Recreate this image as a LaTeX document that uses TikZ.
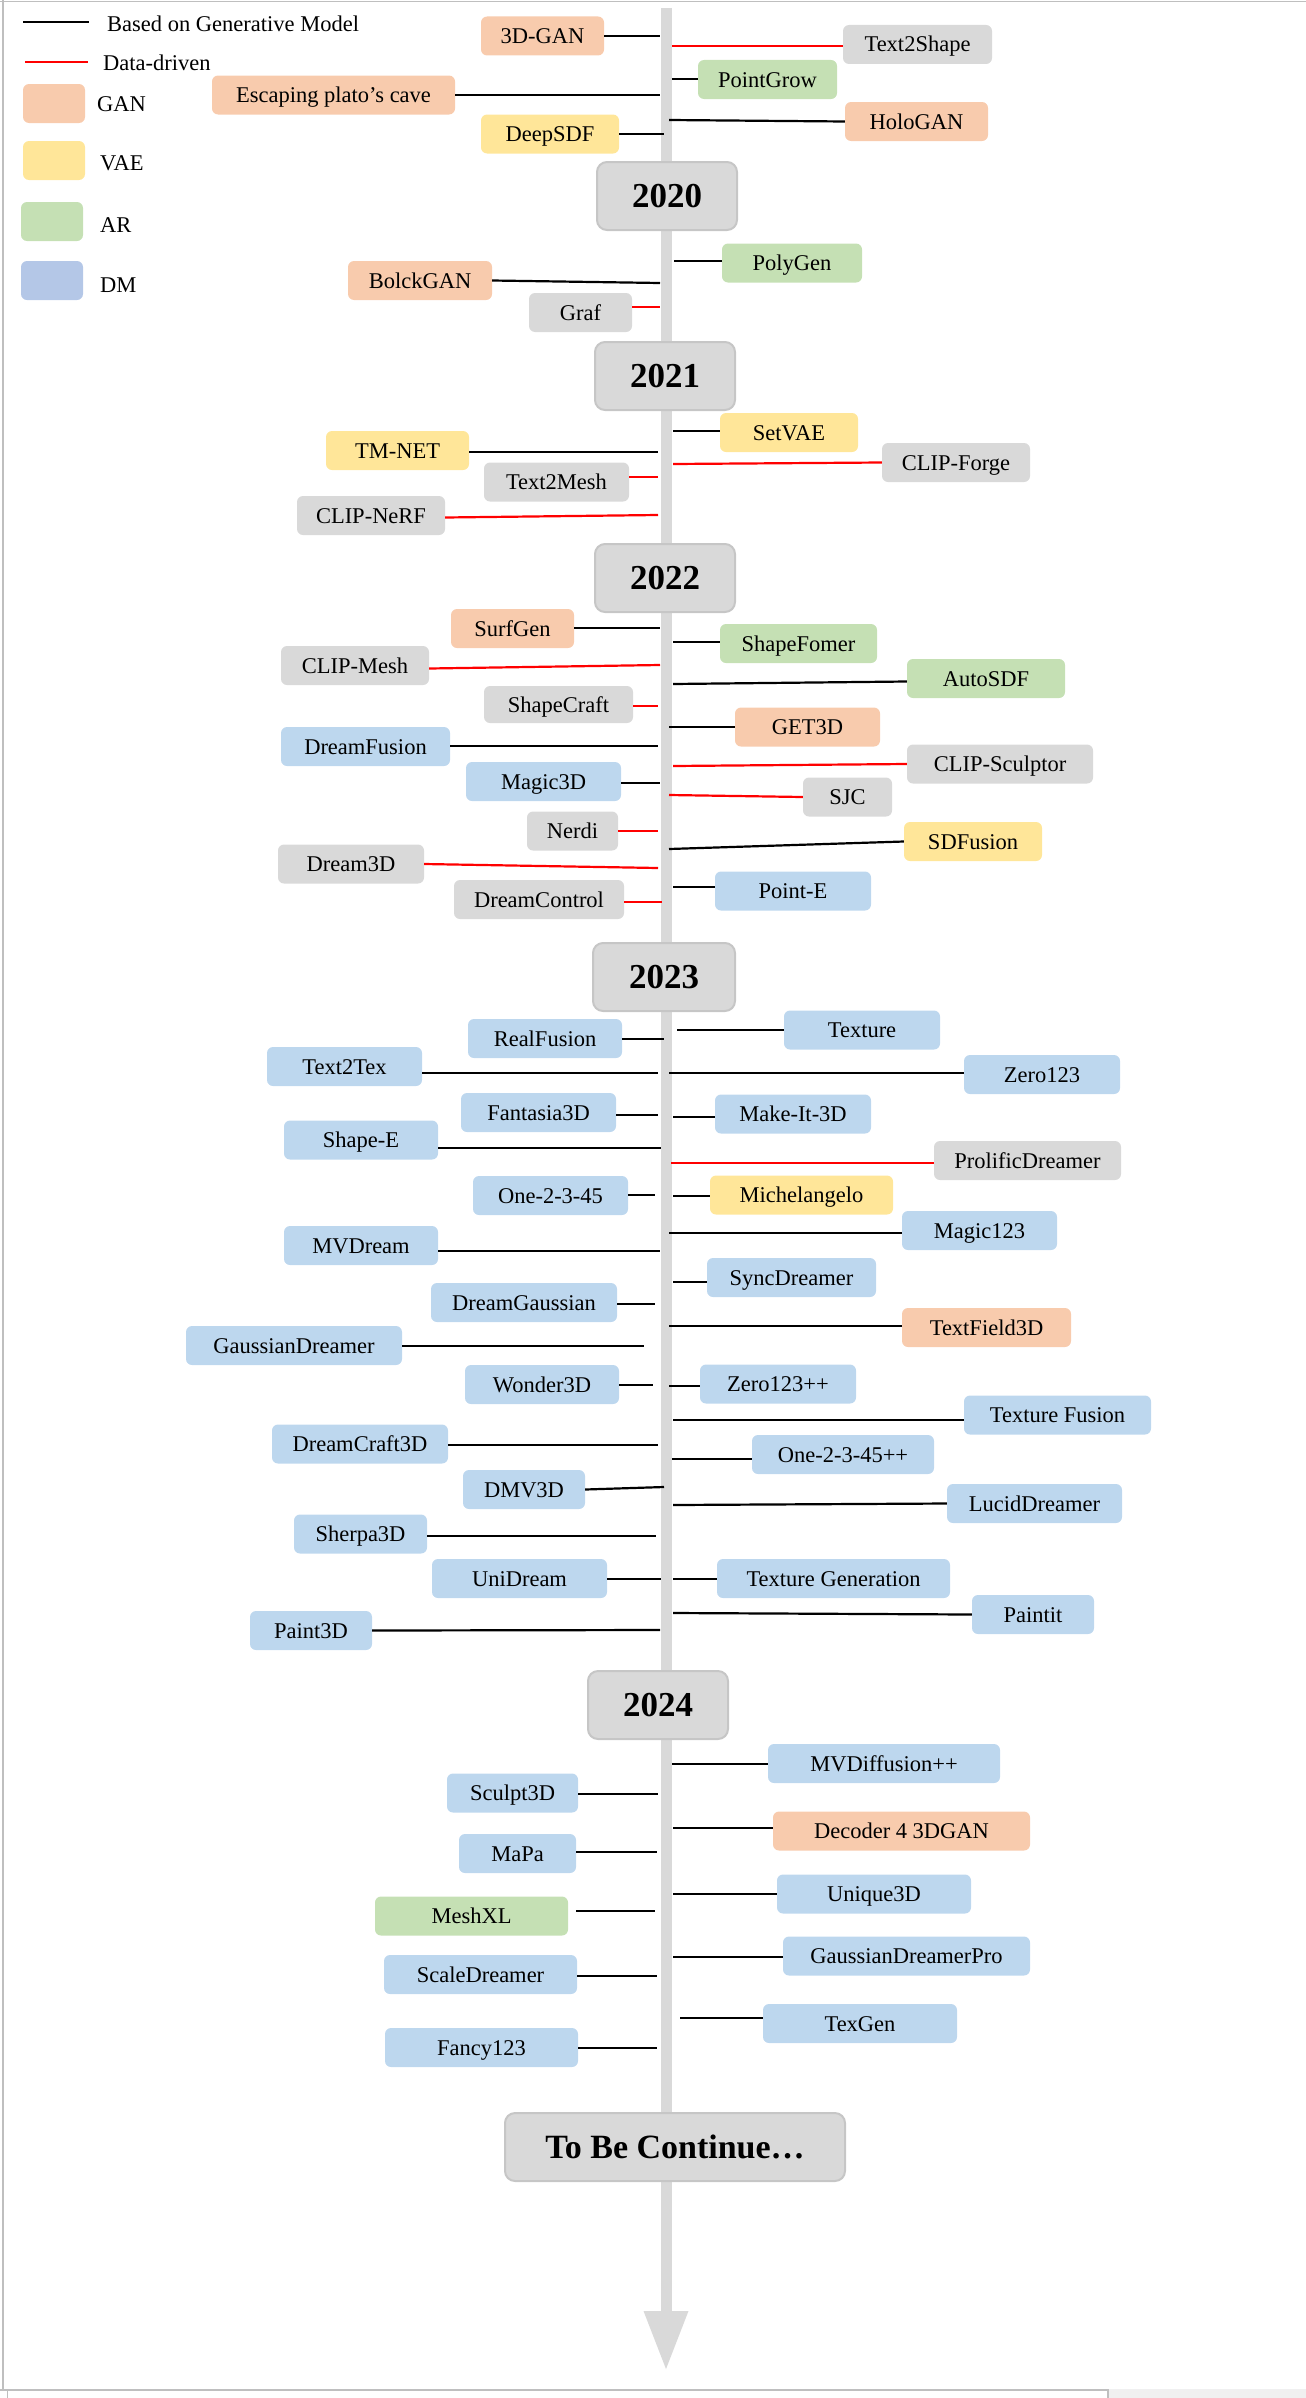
\documentclass[tikz,border=0pt]{standalone}
\usepackage{fontspec}
\setmainfont{Liberation Serif}
\usepackage{tikz}
\usepackage{xcolor}
\usetikzlibrary{arrows.meta, positioning}
\definecolor{colgan}{HTML}{F8CBAD}
\definecolor{colvae}{HTML}{FFE699}
\definecolor{colar}{HTML}{C5E0B4}
\definecolor{coldm}{HTML}{BDD7EE}
\definecolor{coldmkey}{HTML}{B4C7E7}
\definecolor{coloth}{HTML}{D9D9D9}
\definecolor{colaxis}{HTML}{D9D9D9}
\definecolor{colyear}{HTML}{C6C6C6}
\definecolor{colframe}{HTML}{BFBFBF}
\definecolor{colpage}{HTML}{F0F0F0}
\newcommand{\modelfont}{\fontsize{22.5}{27}\selectfont}
\newcommand{\yearfont}{\fontsize{35}{40}\selectfont\bfseries}
\tikzstyle{model}    = [rectangle, rounded corners=6pt, minimum height=39pt, inner sep=2pt,
                        text height=15pt, text depth=0pt, text centered, font=\modelfont]
\tikzstyle{ganbox}   = [model, fill=colgan]
\tikzstyle{vaebox}   = [model, fill=colvae]
\tikzstyle{arbox}    = [model, fill=colar]
\tikzstyle{dmbox}    = [model, fill=coldm]
\tikzstyle{othbox}   = [model, fill=coloth]
\tikzstyle{yearbox}  = [rectangle, rounded corners=10pt, minimum width=140pt, minimum height=68pt,
                        text height=23pt, text depth=0pt, text centered, draw=colyear,
                        line width=2pt, fill=coloth, font=\yearfont]
\tikzstyle{legkey}   = [rectangle, rounded corners=6pt, minimum width=62pt, minimum height=39pt, inner sep=0pt]
\tikzstyle{legtext}  = [anchor=west, inner sep=0pt, text height=15pt, text depth=0pt, font=\modelfont]
\tikzstyle{generative} = [black, line width=2.2pt]
\tikzstyle{datadriven} = [red, line width=2.2pt]
\tikzstyle{timeaxis} = [colaxis, line width=11pt, -{Triangle[width=45pt, length=58pt, line width=0pt]}]

\begin{document}
\begin{tikzpicture}[x=1pt, y=-1pt]
    \useasboundingbox (0,0) rectangle (1306,2398);
    \fill[colpage] (1108,2389) rectangle (1306,2398);
    \draw[colframe, line width=1.5pt] (0,1.5) -- (1306,1.5);
    \draw[colframe, line width=1.5pt] (3,0) -- (3,2390);
    \draw[colframe, line width=1.5pt] (0,2390) -- (1108,2390) -- (1108,2398);
    \draw[colframe, line width=1pt] (7,2391) -- (7,2398);

    \coordinate (top) at (666,8);
    \coordinate (tip) at (666,2369);
    \draw[timeaxis] (top) -- (tip);

    % legend
    \coordinate (kg1) at (23,22);
    \coordinate (kg2) at (89,22);
    \coordinate (kd1) at (25,62);
    \coordinate (kd2) at (88,62);
    \draw[generative] (kg1) -- (kg2);
    \draw[datadriven] (kd1) -- (kd2);
    \node (lgen) [legtext] at (107,24) {Based on Generative Model};
    \node (ldata) [legtext] at (103,63) {Data-driven};
    \node (kgan) [legkey, fill=colgan] at (54,103.5) {};
    \node (kvae) [legkey, fill=colvae] at (54,160.5) {};
    \node (kar) [legkey, fill=colar] at (52,221.5) {};
    \node (kdm) [legkey, fill=coldmkey] at (52,280.5) {};
    \node (lgan) [legtext] at (97,104) {GAN};
    \node (lvae) [legtext] at (100,163) {VAE};
    \node (lar) [legtext] at (100,225) {AR};
    \node (ldm) [legtext] at (100,285) {DM};

    % before 2020
    \node (gan3d) [ganbox, minimum width=123] at (542.5,36) {3D-GAN};
    \node (text2shape) [othbox, minimum width=149] at (917.5,44.5) {Text2Shape};
    \node (pointgrow) [arbox, minimum width=139] at (767.5,79.5) {PointGrow};
    \node (plato) [ganbox, minimum width=243] at (333.5,95) {Escaping plato’s cave};
    \node (hologan) [ganbox, minimum width=143] at (916.5,121.5) {HoloGAN};
    \node (deepsdf) [vaebox, minimum width=138] at (550,134) {DeepSDF};
    \node (y2020) [yearbox] at (667,196) {2020};

    \coordinate (k-gan3d) at (660,36);
    \coordinate (k-text2shape) at (672,46);
    \coordinate (k-pointgrow) at (672,79);
    \coordinate (k-plato) at (660,95);
    \coordinate (k-hologan) at (669,120);
    \coordinate (k-deepsdf) at (664,134);
    \draw[generative] (gan3d.east |- k-gan3d) -- (k-gan3d);
    \draw[datadriven] (k-text2shape) -- (text2shape.west |- k-text2shape);
    \draw[generative] (k-pointgrow) -- (pointgrow.west |- k-pointgrow);
    \draw[generative] (plato.east |- k-plato) -- (k-plato);
    \draw[generative] (k-hologan) -- (hologan.west);
    \draw[generative] (deepsdf.east |- k-deepsdf) -- (k-deepsdf);

    % 2020
    \node (polygen) [arbox, minimum width=140] at (792,263) {PolyGen};
    \node (bolckgan) [ganbox, minimum width=144] at (420,280.5) {BolckGAN};
    \node (graf) [othbox, minimum width=103] at (580.5,312.5) {Graf};
    \node (y2021) [yearbox] at (665,376) {2021};

    \coordinate (k-polygen) at (674,261);
    \coordinate (k-bolckgan) at (660,283);
    \coordinate (k-graf) at (660,307);
    \draw[generative] (k-polygen) -- (polygen.west |- k-polygen);
    \draw[generative] (bolckgan.east) -- (k-bolckgan);
    \draw[datadriven] (graf.east |- k-graf) -- (k-graf);

    % 2021
    \node (setvae) [vaebox, minimum width=138] at (789,432.5) {SetVAE};
    \node (tmnet) [vaebox, minimum width=143] at (397.5,450.5) {TM-NET};
    \node (clipforge) [othbox, minimum width=148] at (956,462.5) {CLIP-Forge};
    \node (text2mesh) [othbox, minimum width=145] at (556.5,482) {Text2Mesh};
    \node (clipnerf) [othbox, minimum width=148] at (371,515.5) {CLIP-NeRF};
    \node (y2022) [yearbox] at (665,578) {2022};

    \coordinate (k-setvae) at (673,431);
    \coordinate (k-tmnet) at (658,452);
    \coordinate (k-clipforge) at (673,464);
    \coordinate (k-text2mesh) at (658,477);
    \coordinate (k-clipnerf) at (658,515);
    \draw[generative] (k-setvae) -- (setvae.west |- k-setvae);
    \draw[generative] (tmnet.east |- k-tmnet) -- (k-tmnet);
    \draw[datadriven] (k-clipforge) -- (clipforge.west);
    \draw[datadriven] (text2mesh.east |- k-text2mesh) -- (k-text2mesh);
    \draw[datadriven] ([shift={(0,2)}]clipnerf.east) -- (k-clipnerf);

    % 2022
    \node (surfgen) [ganbox, minimum width=123] at (512.5,628.5) {SurfGen};
    \node (shapefomer) [arbox, minimum width=157] at (798.5,643.5) {ShapeFomer};
    \node (clipmesh) [othbox, minimum width=148] at (355,665.5) {CLIP-Mesh};
    \node (autosdf) [arbox, minimum width=158] at (986,678.5) {AutoSDF};
    \node (shapecraft) [othbox, minimum width=149, minimum height=37] at (558.5,704.5) {ShapeCraft};
    \node (get3d) [ganbox, minimum width=145] at (807.5,727) {GET3D};
    \node (dreamfusion) [dmbox, minimum width=169] at (365.5,746.5) {DreamFusion};
    \node (clipsculptor) [othbox, minimum width=186] at (1000,764) {CLIP-Sculptor};
    \node (magic3d) [dmbox, minimum width=155] at (543.5,781.5) {Magic3D};
    \node (sjc) [othbox, minimum width=89] at (847.5,797) {SJC};
    \node (nerdi) [othbox, minimum width=91] at (572.5,831) {Nerdi};
    \node (sdfusion) [vaebox, minimum width=138] at (973,841.5) {SDFusion};
    \node (dream3d) [othbox, minimum width=146] at (351,864) {Dream3D};
    \node (pointe) [dmbox, minimum width=156] at (793,891) {Point-E};
    \node (dreamcontrol) [othbox, minimum width=170] at (539,899.5) {DreamControl};
    \node (y2023) [yearbox, minimum width=142] at (664,977) {2023};

    \coordinate (k-surfgen) at (660,628);
    \coordinate (k-shapefomer) at (673,642);
    \coordinate (k-clipmesh) at (660,665);
    \coordinate (k-autosdf) at (673,684);
    \coordinate (k-shapecraft) at (658,706);
    \coordinate (k-get3d) at (669,727);
    \coordinate (k-dreamfusion) at (658,746);
    \coordinate (k-clipsculptor) at (673,766);
    \coordinate (k-magic3d) at (660,783);
    \coordinate (k-sjc) at (669,795);
    \coordinate (k-nerdi) at (658,831);
    \coordinate (k-sdfusion) at (669,849);
    \coordinate (k-dream3d) at (658,868);
    \coordinate (k-pointe) at (673,887);
    \coordinate (k-dreamcontrol) at (662,902);
    \draw[generative] (surfgen.east |- k-surfgen) -- (k-surfgen);
    \draw[generative] (k-shapefomer) -- (shapefomer.west |- k-shapefomer);
    \draw[datadriven] ([shift={(0,3)}]clipmesh.east) -- (k-clipmesh);
    \draw[generative] (k-autosdf) -- ([shift={(0,3)}]autosdf.west);
    \draw[datadriven] (shapecraft.east |- k-shapecraft) -- (k-shapecraft);
    \draw[generative] (k-get3d) -- (get3d.west |- k-get3d);
    \draw[generative] (dreamfusion.east |- k-dreamfusion) -- (k-dreamfusion);
    \draw[datadriven] (k-clipsculptor) -- (clipsculptor.west);
    \draw[generative] (magic3d.east |- k-magic3d) -- (k-magic3d);
    \draw[datadriven] (k-sjc) -- (sjc.west);
    \draw[datadriven] (nerdi.east |- k-nerdi) -- (k-nerdi);
    \draw[generative] (k-sdfusion) -- (sdfusion.west);
    \draw[datadriven] (dream3d.east) -- (k-dream3d);
    \draw[generative] (k-pointe) -- (pointe.west |- k-pointe);
    \draw[datadriven] (dreamcontrol.east |- k-dreamcontrol) -- (k-dreamcontrol);

    % 2023
    \node (texture) [dmbox, minimum width=156] at (862,1030) {Texture};
    \node (realfusion) [dmbox, minimum width=154] at (545,1038.5) {RealFusion};
    \node (text2tex) [dmbox, minimum width=155] at (344.5,1066.5) {Text2Tex};
    \node (zero123) [dmbox, minimum width=156] at (1042,1074.5) {Zero123};
    \node (fantasia3d) [dmbox, minimum width=155] at (538.5,1112.5) {Fantasia3D};
    \node (makeit3d) [dmbox, minimum width=156] at (793,1114) {Make-It-3D};
    \node (shapee) [dmbox, minimum width=154] at (361,1140) {Shape-E};
    \node (prolific) [othbox, minimum width=187] at (1027.5,1160.5) {ProlificDreamer};
    \node (one2345) [dmbox, minimum width=155] at (550.5,1195.5) {One-2-3-45};
    \node (michelangelo) [vaebox, minimum width=183] at (801.5,1195) {Michelangelo};
    \node (magic123) [dmbox, minimum width=155] at (979.5,1230.5) {Magic123};
    \node (mvdream) [dmbox, minimum width=154] at (361,1245.5) {MVDream};
    \node (syncdreamer) [dmbox, minimum width=169] at (791.5,1277.5) {SyncDreamer};
    \node (dreamgaussian) [dmbox, minimum width=186] at (524,1302.5) {DreamGaussian};
    \node (textfield3d) [ganbox, minimum width=169] at (986.5,1327.5) {TextField3D};
    \node (gaussiandreamer) [dmbox, minimum width=216] at (294,1345.5) {GaussianDreamer};
    \node (wonder3d) [dmbox, minimum width=154] at (542,1384.5) {Wonder3D};
    \node (zero123pp) [dmbox, minimum width=156] at (778,1384) {Zero123++};
    \node (texturefusion) [dmbox, minimum width=187] at (1057.5,1415) {Texture Fusion};
    \node (dreamcraft3d) [dmbox, minimum width=176] at (360,1444) {DreamCraft3D};
    \node (one2345pp) [dmbox, minimum width=182] at (843,1454.5) {One-2-3-45++};
    \node (dmv3d) [dmbox, minimum width=122] at (524,1489.5) {DMV3D};
    \node (luciddreamer) [dmbox, minimum width=175] at (1034.5,1503.5) {LucidDreamer};
    \node (sherpa3d) [dmbox, minimum width=133] at (360.5,1534) {Sherpa3D};
    \node (unidream) [dmbox, minimum width=175] at (519.5,1578.5) {UniDream};
    \node (texgeneration) [dmbox, minimum width=233] at (833.5,1578.5) {Texture Generation};
    \node (paintit) [dmbox, minimum width=122] at (1033,1614.5) {Paintit};
    \node (paint3d) [dmbox, minimum width=122] at (311,1630.5) {Paint3D};
    \node (y2024) [yearbox] at (658,1705) {2024};

    \coordinate (k-texture) at (677,1030);
    \coordinate (k-realfusion) at (664,1039);
    \coordinate (k-text2tex) at (658,1073);
    \coordinate (k-zero123) at (669,1073);
    \coordinate (k-fantasia3d) at (658,1115);
    \coordinate (k-makeit3d) at (673,1117);
    \coordinate (k-shapee) at (661,1148);
    \coordinate (k-prolific) at (671,1163);
    \coordinate (k-one2345) at (655,1195);
    \coordinate (k-michelangelo) at (673,1196);
    \coordinate (k-magic123) at (669,1233);
    \coordinate (k-mvdream) at (660,1251);
    \coordinate (k-syncdreamer) at (673,1282);
    \coordinate (k-dreamgaussian) at (655,1304);
    \coordinate (k-textfield3d) at (669,1326);
    \coordinate (k-gaussiandreamer) at (644,1346);
    \coordinate (k-wonder3d) at (653,1385);
    \coordinate (k-zero123pp) at (669,1386);
    \coordinate (k-texturefusion) at (673,1420);
    \coordinate (k-dreamcraft3d) at (658,1445);
    \coordinate (k-one2345pp) at (672,1459);
    \coordinate (k-dmv3d) at (664,1487);
    \coordinate (k-luciddreamer) at (673,1505);
    \coordinate (k-sherpa3d) at (656,1536);
    \coordinate (k-unidream) at (661,1579);
    \coordinate (k-texgeneration) at (673,1579);
    \coordinate (k-paintit) at (673,1613);
    \coordinate (k-paint3d) at (660,1630);
    \draw[generative] (k-texture) -- (texture.west |- k-texture);
    \draw[generative] (realfusion.east |- k-realfusion) -- (k-realfusion);
    \draw[generative] (text2tex.east |- k-text2tex) -- (k-text2tex);
    \draw[generative] (k-zero123) -- (zero123.west |- k-zero123);
    \draw[generative] (fantasia3d.east |- k-fantasia3d) -- (k-fantasia3d);
    \draw[generative] (k-makeit3d) -- (makeit3d.west |- k-makeit3d);
    \draw[generative] (shapee.east |- k-shapee) -- (k-shapee);
    \draw[datadriven] (k-prolific) -- (prolific.west |- k-prolific);
    \draw[generative] (one2345.east |- k-one2345) -- (k-one2345);
    \draw[generative] (k-michelangelo) -- (michelangelo.west |- k-michelangelo);
    \draw[generative] (k-magic123) -- (magic123.west |- k-magic123);
    \draw[generative] (mvdream.east |- k-mvdream) -- (k-mvdream);
    \draw[generative] (k-syncdreamer) -- (syncdreamer.west |- k-syncdreamer);
    \draw[generative] (dreamgaussian.east |- k-dreamgaussian) -- (k-dreamgaussian);
    \draw[generative] (k-textfield3d) -- (textfield3d.west |- k-textfield3d);
    \draw[generative] (gaussiandreamer.east |- k-gaussiandreamer) -- (k-gaussiandreamer);
    \draw[generative] (wonder3d.east |- k-wonder3d) -- (k-wonder3d);
    \draw[generative] (k-zero123pp) -- (zero123pp.west |- k-zero123pp);
    \draw[generative] (k-texturefusion) -- (texturefusion.west |- k-texturefusion);
    \draw[generative] (dreamcraft3d.east |- k-dreamcraft3d) -- (k-dreamcraft3d);
    \draw[generative] (k-one2345pp) -- (one2345pp.west |- k-one2345pp);
    \draw[generative] (dmv3d.east) -- (k-dmv3d);
    \draw[generative] (k-luciddreamer) -- (luciddreamer.west);
    \draw[generative] (sherpa3d.east |- k-sherpa3d) -- (k-sherpa3d);
    \draw[generative] (unidream.east |- k-unidream) -- (k-unidream);
    \draw[generative] (k-texgeneration) -- (texgeneration.west |- k-texgeneration);
    \draw[generative] (k-paintit) -- (paintit.west);
    \draw[generative] (paint3d.east) -- (k-paint3d);

    % 2024
    \node (mvdiffusion) [dmbox, minimum width=232] at (884,1763.5) {MVDiffusion++};
    \node (sculpt3d) [dmbox, minimum width=131] at (512.5,1793) {Sculpt3D};
    \node (decoder) [ganbox, minimum width=257] at (901.5,1831) {Decoder 4 3DGAN};
    \node (mapa) [dmbox, minimum width=117] at (517.5,1853.5) {MaPa};
    \node (unique3d) [dmbox, minimum width=194] at (874,1894) {Unique3D};
    \node (meshxl) [arbox, minimum width=193] at (471.5,1916) {MeshXL};
    \node (gdreamerpro) [dmbox, minimum width=247] at (906.5,1956) {GaussianDreamerPro};
    \node (scaledreamer) [dmbox, minimum width=193] at (480.5,1974.5) {ScaleDreamer};
    \node (texgen) [dmbox, minimum width=194] at (860,2023.5) {TexGen};
    \node (fancy123) [dmbox, minimum width=193] at (481.5,2047.5) {Fancy123};
    \node (tbc) [yearbox, minimum width=340, font=\fontsize{34}{40}\selectfont\bfseries] at (675,2147) {To Be Continue…};

    \coordinate (k-mvdiffusion) at (672,1764);
    \coordinate (k-sculpt3d) at (658,1794);
    \coordinate (k-decoder) at (673,1828);
    \coordinate (k-mapa) at (657,1852);
    \coordinate (k-unique3d) at (673,1894);
    \coordinate (k-meshxl) at (655,1911);
    \coordinate (k-gdreamerpro) at (673,1957);
    \coordinate (k-scaledreamer) at (657,1976);
    \coordinate (k-texgen) at (680,2018);
    \coordinate (k-fancy123) at (657,2048);
    \draw[generative] (k-mvdiffusion) -- (mvdiffusion.west |- k-mvdiffusion);
    \draw[generative] (sculpt3d.east |- k-sculpt3d) -- (k-sculpt3d);
    \draw[generative] (k-decoder) -- (decoder.west |- k-decoder);
    \draw[generative] (mapa.east |- k-mapa) -- (k-mapa);
    \draw[generative] (k-unique3d) -- (unique3d.west |- k-unique3d);
    \draw[generative] ([shift={(8,0)}]meshxl.east |- k-meshxl) -- (k-meshxl);
    \draw[generative] (k-gdreamerpro) -- (gdreamerpro.west |- k-gdreamerpro);
    \draw[generative] (scaledreamer.east |- k-scaledreamer) -- (k-scaledreamer);
    \draw[generative] (k-texgen) -- (texgen.west |- k-texgen);
    \draw[generative] (fancy123.east |- k-fancy123) -- (k-fancy123);
\end{tikzpicture}
\end{document}
